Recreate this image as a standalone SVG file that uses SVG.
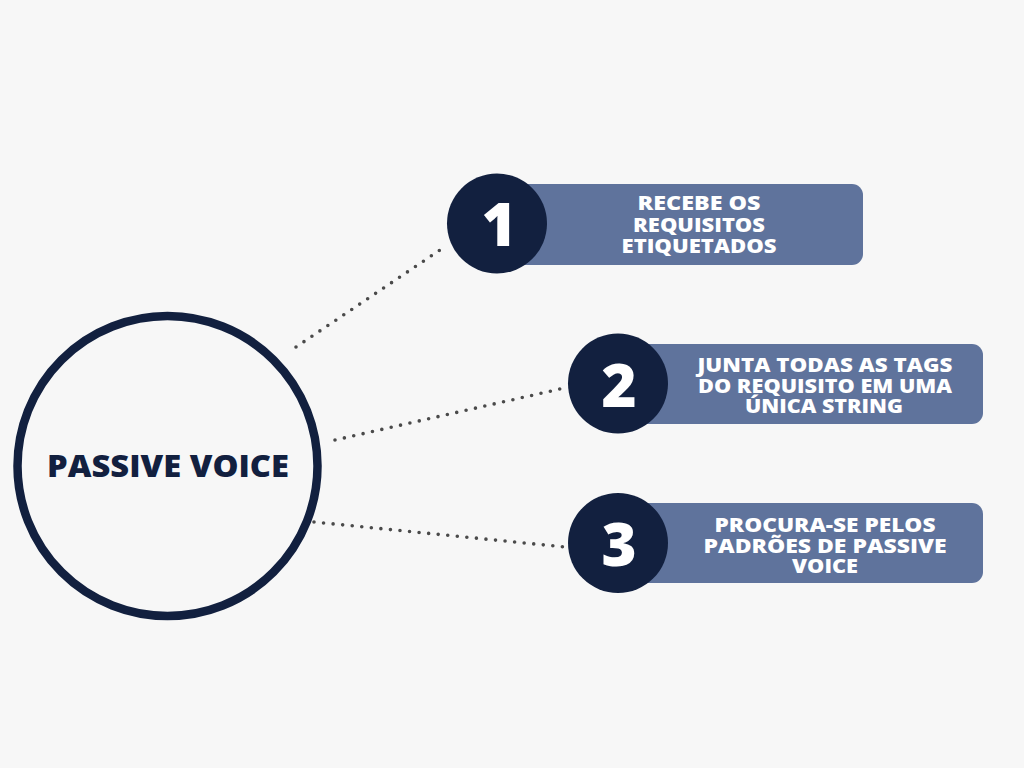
<svg xmlns="http://www.w3.org/2000/svg" width="1024" height="768" viewBox="0 0 1024 768">
<style>
.bar{fill:#5f739c}
.num{fill:#12203f}
.nt{font-family:"Open Sans","Liberation Sans",Arial,sans-serif;font-weight:800;font-size:60px;fill:#ffffff;text-anchor:middle}
.lt{font-family:"Open Sans","Liberation Sans",Arial,sans-serif;font-weight:800;font-size:19px;fill:#ffffff;text-anchor:middle}
.dot{stroke:#4a4a4a;stroke-width:3.6;stroke-linecap:round;stroke-dasharray:0 9.6;fill:none}
</style>
<rect width="1024" height="768" fill="#f7f7f7"/>
<g id="connectors">
<line class="dot" x1="296" y1="347" x2="440" y2="250"/>
<line class="dot" x1="335" y1="440" x2="560" y2="389"/>
<line class="dot" x1="314" y1="522" x2="565" y2="547"/>
</g>
<g id="main">
<circle cx="167.5" cy="466" r="150" fill="none" stroke="#12203f" stroke-width="8.5"/>
<text x="168" y="477" font-family="Open Sans,Liberation Sans,Arial,sans-serif" font-weight="800" font-size="30" fill="#12203f" text-anchor="middle" textLength="242" lengthAdjust="spacingAndGlyphs">PASSIVE VOICE</text>
</g>
<g id="step1">
<rect class="bar" x="497" y="184" width="366" height="81" rx="11"/>
<circle class="num" cx="497" cy="223.5" r="50"/>
<text class="nt" x="499" y="246">1</text>
<text class="lt" x="699" y="210" textLength="123" lengthAdjust="spacingAndGlyphs">RECEBE OS</text>
<text class="lt" x="699" y="232" textLength="132" lengthAdjust="spacingAndGlyphs">REQUISITOS</text>
<text class="lt" x="699" y="253" textLength="155" lengthAdjust="spacingAndGlyphs">ETIQUETADOS</text>
</g>
<g id="step2">
<rect class="bar" x="618" y="344" width="365" height="80" rx="11"/>
<circle class="num" cx="618" cy="383.5" r="50"/>
<text class="nt" x="619" y="407">2</text>
<text class="lt" x="825" y="372" textLength="255" lengthAdjust="spacingAndGlyphs">JUNTA TODAS AS TAGS</text>
<text class="lt" x="825" y="393" textLength="254" lengthAdjust="spacingAndGlyphs">DO REQUISITO EM UMA</text>
<text class="lt" x="824" y="413" textLength="158" lengthAdjust="spacingAndGlyphs">ÚNICA STRING</text>
</g>
<g id="step3">
<rect class="bar" x="618" y="503" width="365" height="80" rx="11"/>
<circle class="num" cx="618" cy="543" r="50"/>
<text class="nt" x="619" y="566">3</text>
<text class="lt" x="825" y="532" textLength="221" lengthAdjust="spacingAndGlyphs">PROCURA-SE PELOS</text>
<text class="lt" x="825" y="553" textLength="243" lengthAdjust="spacingAndGlyphs">PADRÕES DE PASSIVE</text>
<text class="lt" x="825" y="573" textLength="66" lengthAdjust="spacingAndGlyphs">VOICE</text>
</g>
</svg>
